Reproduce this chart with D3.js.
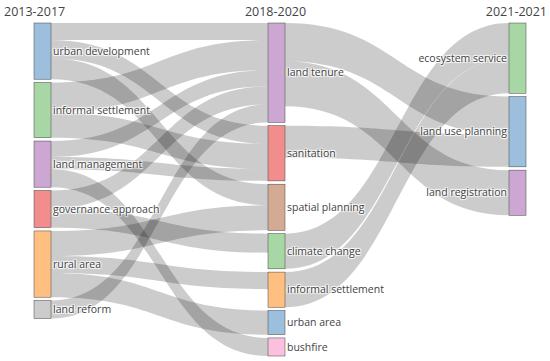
<!DOCTYPE html>
<html>
<head>
<meta charset="utf-8">
<script src="https://cdn.jsdelivr.net/npm/d3@7"></script>
<style>
  body { margin: 0; background: #fff; }
  svg text { font-family: "Open Sans", verdana, arial, sans-serif; fill: #444; }
  .label { text-shadow: 1px 1px 1px #fff, -1px -1px 1px #fff, 1px -1px 1px #fff, -1px 1px 1px #fff; }
</style>
</head>
<body>
<svg width="550" height="361"></svg>
<script>
// periods (column headers)
var periods = ["2013-2017", "2018-2020", "2021-2021"];

// themes per period, top to bottom
var themes1 = ["urban development", "informal settlement", "land management", "governance approach", "rural area", "land reform"];
var themes2 = ["land tenure", "sanitation", "spatial planning", "climate change", "informal settlement", "urban area", "bushfire"];
var themes3 = ["ecosystem service", "land use planning", "land registration"];

// node colours (Set1, shown at half strength)
var colors1 = ["#377EB8", "#4DAF4A", "#984EA3", "#E41A1C", "#FF7F00", "#999999"];
var colors2 = ["#984EA3", "#E41A1C", "#A65628", "#4DAF4A", "#FF7F00", "#377EB8", "#F781BF"];
var colors3 = ["#4DAF4A", "#377EB8", "#984EA3"];

// flows 2013-2017 -> 2018-2020
var flows1 = [
  ["urban development", "land tenure", 17],
  ["urban development", "sanitation", 18],
  ["urban development", "spatial planning", 21],
  ["informal settlement", "land tenure", 30],
  ["informal settlement", "sanitation", 25],
  ["land management", "land tenure", 16],
  ["land management", "sanitation", 12],
  ["land management", "bushfire", 18],
  ["governance approach", "land tenure", 18],
  ["governance approach", "climate change", 19],
  ["rural area", "spatial planning", 25],
  ["rural area", "informal settlement", 17],
  ["rural area", "urban area", 24],
  ["land reform", "land tenure", 18]
];

// flows 2018-2020 -> 2021-2021
var flows2 = [
  ["land tenure", "land use planning", 38],
  ["land tenure", "land registration", 45],
  ["sanitation", "land use planning", 32],
  ["climate change", "ecosystem service", 35],
  ["informal settlement", "ecosystem service", 35]
];

var svg = d3.select("svg");
var nodeWidth = 17, pad = 3.3, yTop = 23, yBottom = 356;

var columns = [themes1, themes2, themes3];
var colColors = [colors1, colors2, colors3];

var nodes = [];
columns.forEach(function (names, c) {
  names.forEach(function (name, i) {
    nodes.push({ name: name, col: c, color: colColors[c][i], sourceLinks: [], targetLinks: [] });
  });
});
function findNode(c, name) {
  return nodes.find(function (n) { return n.col === c && n.name === name; });
}

var links = [];
[flows1, flows2].forEach(function (flows, c) {
  flows.forEach(function (f) {
    var l = { source: findNode(c, f[0]), target: findNode(c + 1, f[1]), value: f[2] };
    l.source.sourceLinks.push(l);
    l.target.targetLinks.push(l);
    links.push(l);
  });
});

nodes.forEach(function (n) {
  n.value = Math.max(d3.sum(n.sourceLinks, function (l) { return l.value; }),
                     d3.sum(n.targetLinks, function (l) { return l.value; }));
});

// vertical scale: the fullest column fills the height
var ky = d3.min(columns, function (names, c) {
  var total = d3.sum(nodes.filter(function (n) { return n.col === c; }), function (n) { return n.value; });
  return (yBottom - yTop - (names.length - 1) * pad) / total;
});
var h = d3.scaleLinear().domain([0, 1]).range([0, ky]);
var x = d3.scaleLinear().domain([0, 1, 2]).range([34, 268, 509]);

columns.forEach(function (names, c) {
  var y = yTop;
  nodes.filter(function (n) { return n.col === c; }).forEach(function (n) {
    n.x0 = x(c); n.x1 = n.x0 + nodeWidth;
    n.y0 = y; n.y1 = y + h(n.value);
    y = n.y1 + pad;
  });
});

// stack link ends on each node
nodes.forEach(function (n) {
  var sy = n.y0, ty = n.y0;
  n.sourceLinks.sort(function (a, b) { return a.target.y0 - b.target.y0; })
    .forEach(function (l) { l.sy = sy; sy += h(l.value); });
  n.targetLinks.sort(function (a, b) { return a.source.y0 - b.source.y0; })
    .forEach(function (l) { l.ty = ty; ty += h(l.value); });
});

function bandPath(l) {
  var x0 = l.source.x1, x1 = l.target.x0, xm = (x0 + x1) / 2, w = h(l.value);
  var p = d3.path();
  p.moveTo(x0, l.sy);
  p.bezierCurveTo(xm, l.sy, xm, l.ty, x1, l.ty);
  p.lineTo(x1, l.ty + w);
  p.bezierCurveTo(xm, l.ty + w, xm, l.sy + w, x0, l.sy + w);
  p.closePath();
  return p.toString();
}

svg.append("g")
    .attr("id", "links")
  .selectAll("path")
  .data(links)
  .enter().append("path")
    .attr("d", bandPath)
    .attr("fill", "rgba(0,0,0,0.2)");

var node = svg.append("g")
    .attr("id", "nodes")
  .selectAll("g")
  .data(nodes)
  .enter().append("g");

node.append("rect")
    .attr("x", function (d) { return d.x0; })
    .attr("y", function (d) { return d.y0; })
    .attr("width", nodeWidth)
    .attr("height", function (d) { return d.y1 - d.y0; })
    .attr("fill", function (d) { return d3.interpolateRgb("#fff", d.color)(0.5); })
    .attr("stroke", "#444")
    .attr("stroke-width", 0.5);

node.append("text")
    .attr("class", "label")
    .attr("x", function (d) { return d.col === 2 ? d.x0 - 2 : d.x1 + 2; })
    .attr("y", function (d) { return (d.y0 + d.y1) / 2; })
    .attr("dy", "0.35em")
    .attr("text-anchor", function (d) { return d.col === 2 ? "end" : "start"; })
    .style("font-size", "10.5px")
    .text(function (d) { return d.name; });

// period headers across the paper width
var paper = d3.scalePoint().domain(periods).range([4, 547]);
svg.append("g")
    .attr("id", "periods")
  .selectAll("text")
  .data(periods)
  .enter().append("text")
    .attr("x", function (d) { return paper(d); })
    .attr("y", 16)
    .attr("text-anchor", function (d, i) { return ["start", "middle", "end"][i]; })
    .style("font-size", "12.5px")
    .text(function (d) { return d; });
</script>
</body>
</html>
